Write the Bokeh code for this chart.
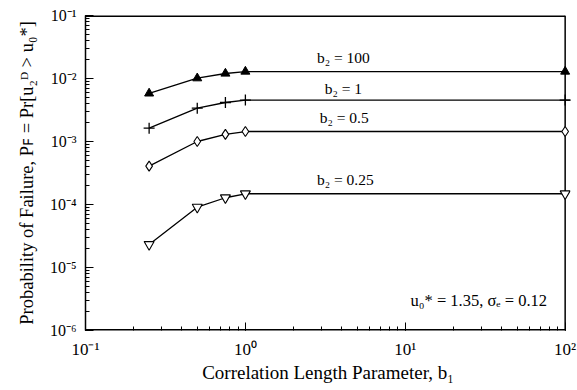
from bokeh.plotting import figure
from bokeh.models import CustomJSTickFormatter, Label, LogTicker
from bokeh.core.properties import value
from bokeh.embed import file_html
from bokeh.resources import INLINE

# ---- data ----
b1 = [0.25, 0.5, 0.75, 1.0, 100.0]
pf_b2_100 = [5.8e-3, 1.01e-2, 1.2e-2, 1.29e-2, 1.29e-2]
pf_b2_1 = [1.63e-3, 3.38e-3, 4.16e-3, 4.55e-3, 4.55e-3]
pf_b2_05 = [4.06e-4, 1.0e-3, 1.3e-3, 1.44e-3, 1.44e-3]
pf_b2_025 = [2.32e-5, 9.06e-5, 1.28e-4, 1.48e-4, 1.48e-4]

x_tick_vals = [0.1, 1.0, 10.0, 100.0]
x_tick_labels = ["10\u207b\u00b9", "10\u2070", "10\u00b9", "10\u00b2"]
y_tick_vals = [1e-6, 1e-5, 1e-4, 1e-3, 1e-2, 1e-1]
y_tick_labels = ["10\u207b\u2076", "10\u207b\u2075", "10\u207b\u2074",
                 "10\u207b\u00b3", "10\u207b\u00b2", "10\u207b\u00b9"]

series_labels = ["b\u2082 = 100", "b\u2082 = 1", "b\u2082 = 0.5", "b\u2082 = 0.25"]
note = "u\u2080* = 1.35, \u03c3\u2091 = 0.12"

X_MIN, X_MAX = 0.1, 100.0
Y_MIN, Y_MAX = 1e-6, 1e-1

FONT = "Liberation Serif"

p = figure(width=577, height=390, x_axis_type="log", y_axis_type="log",
           x_range=(X_MIN, X_MAX * 1.08), y_range=(Y_MIN, Y_MAX),
           output_backend="svg", toolbar_location=None,
           min_border_left=85, min_border_right=7, min_border_top=15, min_border_bottom=60)

p.xgrid.visible = False
p.ygrid.visible = False
p.outline_line_color = None
p.background_fill_color = "white"
p.border_fill_color = "white"

# plot box drawn as glyph lines: right edge at b1 = 100 so its markers are whole
p.line([X_MIN, X_MAX], [Y_MAX, Y_MAX], line_color="black", line_width=3)
p.line([X_MIN, X_MAX], [Y_MIN, Y_MIN], line_color="black", line_width=3)
p.line([X_MAX, X_MAX], [Y_MIN, Y_MAX], line_color="black", line_width=1.5)

fmt_code = """
const i = vals.findIndex(v => Math.abs(Math.log10(v) - Math.log10(tick)) < 1e-6);
return i >= 0 ? labs[i] : "";
"""
p.xaxis.formatter = CustomJSTickFormatter(args=dict(vals=x_tick_vals, labs=x_tick_labels), code=fmt_code)
p.yaxis.formatter = CustomJSTickFormatter(args=dict(vals=y_tick_vals, labs=y_tick_labels), code=fmt_code)
p.xaxis.ticker = LogTicker(num_minor_ticks=10)
p.yaxis.ticker = LogTicker(num_minor_ticks=10)

for ax in (p.xaxis[0], p.yaxis[0]):
    ax.major_tick_in = 8
    ax.major_tick_out = 0
    ax.minor_tick_in = 4
    ax.minor_tick_out = 0
    ax.major_tick_line_color = "black"
    ax.minor_tick_line_color = "black"
    ax.major_label_text_font = FONT
    ax.major_label_text_color = "black"
    ax.axis_label_text_font = FONT
    ax.axis_label_text_font_style = "normal"
    ax.axis_label_text_color = "black"

p.xaxis.axis_line_color = None
p.yaxis.axis_line_color = "black"
p.yaxis.axis_line_width = 1.5

p.xaxis.major_label_text_font_size = "17px"
p.yaxis.major_label_text_font_size = "16px"
p.xaxis.axis_label_text_font_size = "19px"
p.yaxis.axis_label_text_font_size = "18.5px"

p.xaxis.axis_label = "Correlation Length Parameter, b\u2081"
p.yaxis.axis_label = "Probability of Failure, P\ua730 = Pr[u\u2082\u1d30 > u\u2080*]"
p.xaxis.major_label_standoff = 9
p.yaxis.major_label_standoff = 9
p.xaxis.axis_label_standoff = 0
p.yaxis.axis_label_standoff = 10

LW = 1.3
p.line(b1, pf_b2_100, color="black", line_width=LW)
p.scatter(b1, pf_b2_100, marker="triangle", size=9, fill_color="black", line_color="black")

p.line(b1 + [120], pf_b2_1 + [pf_b2_1[-1]], color="black", line_width=LW)
p.scatter(b1, pf_b2_1, marker="cross", size=11, line_color="black", line_width=LW)

p.line(b1, pf_b2_05, color="black", line_width=LW)
p.scatter(b1, pf_b2_05, marker="diamond", size=10, fill_color="white", line_color="black", line_width=1.1)

p.line(b1, pf_b2_025, color="black", line_width=LW)
p.scatter(b1, pf_b2_025, marker="inverted_triangle", size=10, fill_color="white", line_color="black", line_width=1.1)

label_x = [4.1, 4.1, 4.15, 4.22]
label_y = [0.0215, 6.9e-3, 2.4e-3, 2.5e-4]
p.text(label_x, label_y, text=series_labels, text_font=value(FONT), text_font_size="15.5px",
       text_align="center", text_baseline="middle", text_color="black")

p.add_layout(Label(x=77.0, y=3.0e-6, text=note, text_font=FONT, text_font_size="16.5px",
                   text_align="right", text_baseline="middle", text_color="black"))

open("out.html", "w").write(file_html(p, INLINE))
